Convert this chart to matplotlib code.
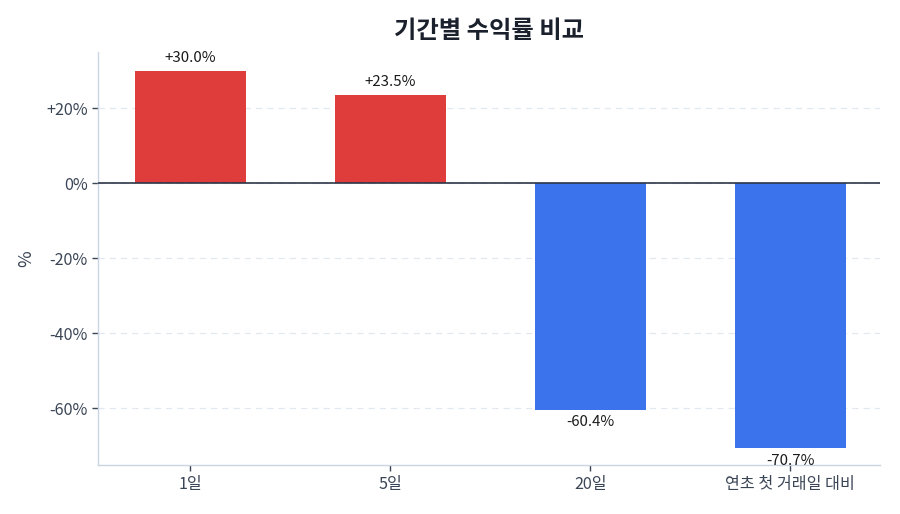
import matplotlib
matplotlib.use("Agg")
import matplotlib.pyplot as plt
from matplotlib.ticker import FuncFormatter

plt.rcParams['font.family'] = ['Noto Sans CJK KR', 'DejaVu Sans']

periods = ["1일", "5일", "20일", "연초 첫 거래일 대비"]
returns = [30.0, 23.5, -60.4, -70.7]

red = "#df3c3c"
blue = "#3b73ed"
text_col = "#3a4556"

fig = plt.figure(figsize=(9, 5.14), dpi=100)
ax = fig.add_axes([0.109, 0.095, 0.869, 0.804])

x = list(range(len(periods)))
colors = [red if v >= 0 else blue for v in returns]
ax.bar(x, returns, width=0.555, color=colors, zorder=3)

for xi, v in zip(x, returns):
    if v >= 0:
        ax.annotate(f"{v:+.1f}%", (xi, v), xytext=(0, 4), textcoords="offset points",
                    ha="center", va="bottom", fontsize=10.8, color="#1a1a1a")
    else:
        ax.annotate(f"{v:.1f}%", (xi, v), xytext=(0, -4), textcoords="offset points",
                    ha="center", va="top", fontsize=10.8, color="#1a1a1a")

ax.axhline(0, color="#2d3748", linewidth=1.2, zorder=4)

ax.set_xlim(-0.46, 3.45)
ax.set_ylim(-75.2, 35)
ax.set_yticks([20, 0, -20, -40, -60])
ax.yaxis.set_major_formatter(FuncFormatter(lambda v, p: f"+{v:.0f}%" if v > 0 else f"{v:.0f}%"))
ax.set_xticks(x)
ax.set_xticklabels(periods)

ax.grid(axis="y", linestyle=(0, (5, 4)), color="#e2e8f0", linewidth=0.9, zorder=0)
for s in ["top", "right"]:
    ax.spines[s].set_visible(False)
for s in ["left", "bottom"]:
    ax.spines[s].set_color("#cbd5e1")
    ax.spines[s].set_linewidth(1.0)

ax.tick_params(axis="both", colors="#3a4556", labelsize=11.6, length=4, width=1)
ax.tick_params(axis="both", labelcolor=text_col)
ax.set_ylabel("%", fontsize=13, color=text_col, labelpad=8)
ax.set_title("기간별 수익률 비교", fontsize=17.5, fontweight="bold", color="#1a202c", pad=10)

fig.savefig("out.png", dpi=100)
